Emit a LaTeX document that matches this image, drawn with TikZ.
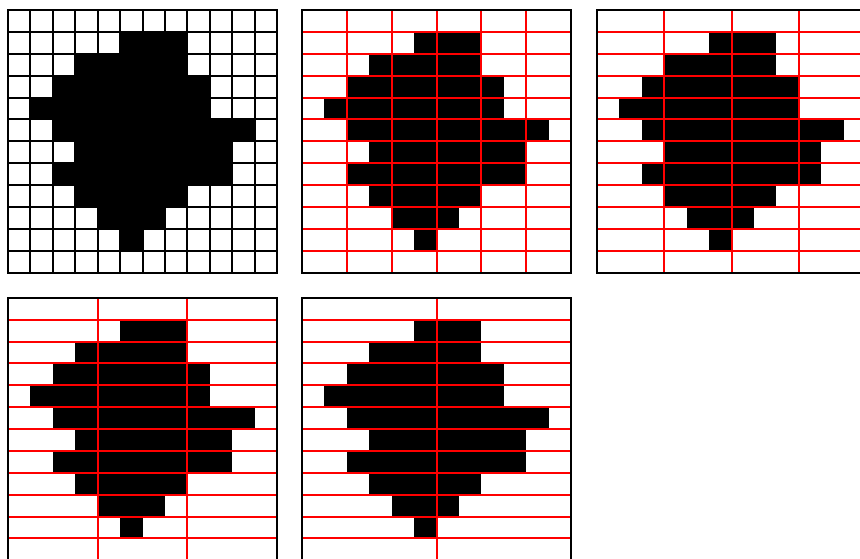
\documentclass[tikz,border=0pt]{standalone}
\usepackage{tikz}
\usetikzlibrary{calc}
\tikzset{
  cell/.style={fill=black},
  gridline/.style={line width=2pt},
  frame/.style={draw=black, line width=2.2pt}
}
\begin{document}
\begin{tikzpicture}[x=1pt,y=1pt]
  \useasboundingbox (0,0) rectangle (860,558);
  \clip (0,0) rectangle (860,558);
  % panels: lower left corner / column step / grid colour
  \foreach \px/\py/\k/\clr in {8/285.4/1/black, 302/285.4/2/red, 597/285.4/3/red, 8/-2.3/4/red, 302/-2.3/6/red}{
    \begin{scope}[shift={(\px,\py)}, x=22.42pt, y=21.88pt]
      % rows of the blob: row / first column / last column
      \foreach \r/\a/\b in {1/5/7, 2/3/7, 3/2/8, 4/1/8, 5/2/10, 6/3/9, 7/2/9, 8/3/7, 9/4/6, 10/5/5}
        \fill[cell] (\a,11-\r) rectangle (\b+1,12-\r);
      \draw[gridline, draw=\clr, xstep=\k, ystep=1] (0,0) grid (12,12);
      \draw[frame] (0,0) rectangle (12,12);
    \end{scope}
  }
\end{tikzpicture}
\end{document}
